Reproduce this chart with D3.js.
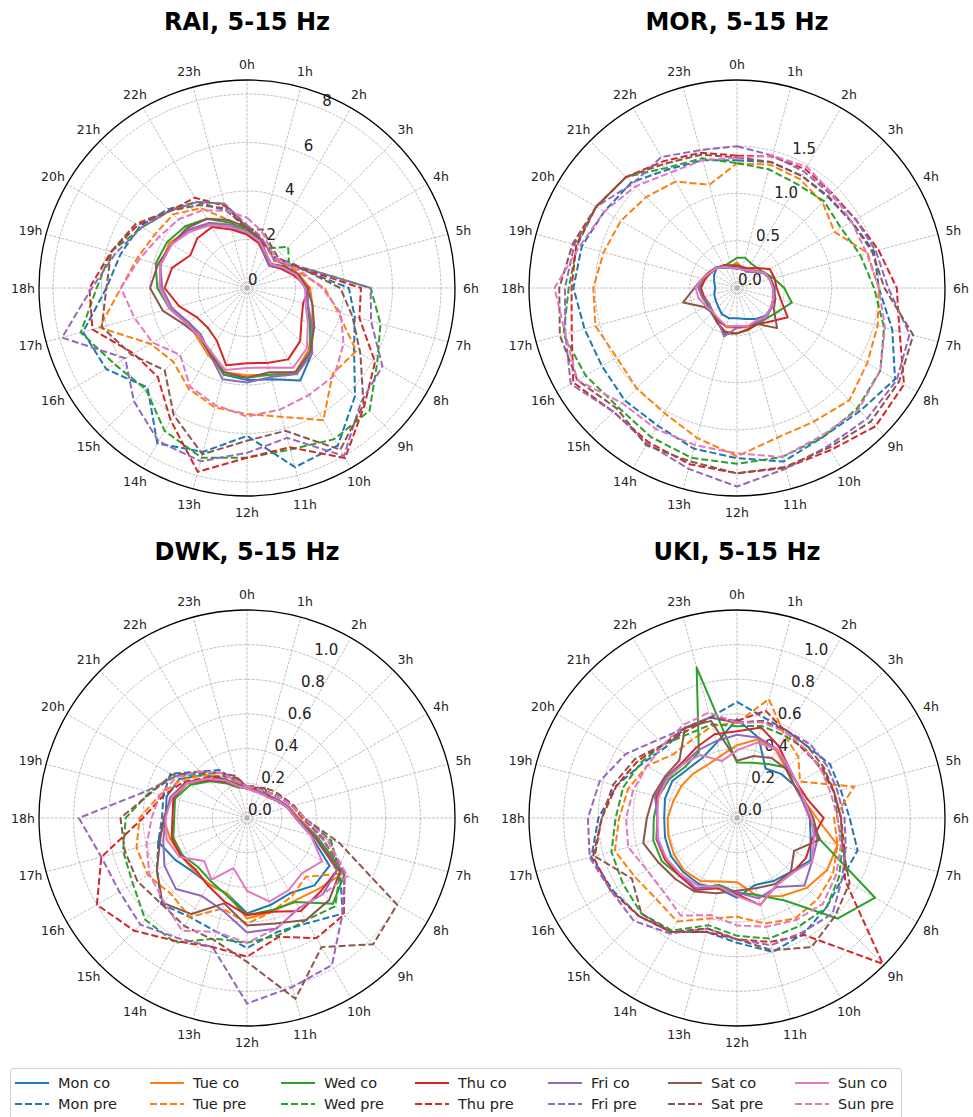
<!DOCTYPE html>
<html>
<head>
<meta charset="utf-8">
<script src="https://cdnjs.cloudflare.com/ajax/libs/d3/7.8.5/d3.min.js"></script>
<style>
  body { margin: 0; background: #fff; }
  text { font-family: "DejaVu Sans", sans-serif; }
</style>
</head>
<body>
<div id="chart"></div>
<script>
// hour labels, clockwise from the top
const hourLabels = ["0h","1h","2h","3h","4h","5h","6h","7h","8h","9h","10h","11h",
                    "12h","13h","14h","15h","16h","17h","18h","19h","20h","21h","22h","23h"];
const days = ["Mon", "Tue", "Wed", "Thu", "Fri", "Sat", "Sun"];

// radial ticks per station
const raiTicks = [0, 2, 4, 6, 8];
const morTicks = [0, 0.5, 1.0, 1.5];
const dwkTicks = [0, 0.2, 0.4, 0.6, 0.8, 1.0];
const ukiTicks = [0, 0.2, 0.4, 0.6, 0.8, 1.0];

// ---- RAI ----
const raiCo = [
  [2.25, 2.0, 1.5, 1.3, 1.7, 2.1, 2.4, 2.6, 3.0, 3.8, 4.4, 3.9, 3.8, 3.7, 3.1, 2.8, 2.9, 3.3, 3.6, 3.7, 3.6, 3.4, 3.0, 2.6],
  [2.3, 2.0, 1.6, 1.4, 1.7, 2.2, 2.6, 2.8, 3.1, 3.6, 4.0, 3.7, 3.6, 3.6, 3.2, 2.9, 2.8, 3.3, 3.6, 3.7, 3.7, 3.4, 3.1, 2.7],
  [2.4, 2.1, 1.5, 1.3, 1.7, 2.1, 2.5, 2.6, 3.0, 3.7, 4.1, 3.7, 3.7, 3.7, 3.0, 2.8, 2.8, 3.3, 3.7, 3.9, 3.8, 3.6, 3.3, 2.8],
  [2.2, 1.9, 1.5, 1.3, 1.6, 2.0, 2.55, 2.4, 2.6, 3.1, 3.4, 3.2, 3.1, 3.3, 2.5, 2.3, 2.4, 2.9, 3.4, 3.2, 2.7, 2.9, 2.9, 2.5],
  [2.3, 2.0, 1.5, 1.3, 1.7, 2.1, 2.5, 2.6, 3.1, 3.8, 4.1, 3.8, 3.9, 3.9, 3.1, 2.7, 2.8, 3.2, 3.5, 3.7, 3.6, 3.4, 3.1, 2.7],
  [2.5, 2.1, 1.6, 1.4, 1.8, 2.2, 2.5, 2.8, 3.2, 3.7, 4.0, 3.6, 3.7, 3.6, 3.1, 2.8, 3.0, 3.6, 4.0, 3.8, 3.6, 3.5, 3.3, 2.9],
  [2.3, 2.0, 1.6, 1.4, 1.7, 2.1, 2.4, 2.5, 2.9, 3.5, 3.8, 3.4, 3.3, 3.5, 3.0, 2.8, 2.9, 3.3, 3.6, 3.7, 3.6, 3.3, 3.0, 2.6]
];
const raiPre = [
  [2.5, 2.1, 1.8, 1.7, 2.1, 2.6, 4.2, 4.6, 5.1, 6.3, 7.5, 7.65, 6.1, 7.0, 7.4, 5.8, 6.7, 7.0, 5.8, 5.4, 5.1, 4.6, 4.1, 3.3],
  [2.4, 2.1, 1.8, 1.6, 1.9, 2.3, 3.2, 3.9, 5.2, 5.0, 6.3, 5.5, 5.2, 5.1, 4.8, 4.3, 4.6, 6.3, 5.2, 4.7, 4.4, 4.3, 3.8, 2.9],
  [2.5, 2.0, 1.9, 2.4, 2.0, 2.8, 5.1, 5.7, 6.2, 7.15, 7.2, 6.9, 7.0, 7.25, 6.8, 5.9, 6.3, 7.1, 6.2, 5.8, 5.0, 4.5, 4.1, 3.6],
  [2.5, 2.1, 1.8, 1.7, 2.0, 2.7, 4.7, 4.8, 6.1, 6.85, 8.1, 6.8, 7.0, 7.85, 6.3, 5.2, 5.4, 6.6, 6.5, 5.8, 5.2, 4.5, 4.3, 3.5],
  [2.6, 2.2, 1.8, 1.6, 1.9, 2.8, 5.1, 5.3, 6.45, 6.65, 8.0, 6.4, 6.8, 7.4, 7.3, 6.6, 5.8, 7.9, 6.4, 5.6, 5.0, 4.5, 4.1, 3.6],
  [2.4, 2.5, 2.0, 1.8, 2.0, 2.6, 3.85, 4.5, 5.4, 6.8, 7.7, 6.1, 6.3, 7.1, 6.05, 4.8, 5.5, 6.2, 5.8, 5.8, 5.3, 4.5, 3.95, 3.4],
  [2.9, 2.4, 1.9, 1.7, 2.0, 2.4, 3.1, 4.0, 4.6, 5.1, 5.1, 5.2, 5.3, 5.0, 4.7, 3.9, 4.5, 4.8, 5.2, 4.6, 4.2, 4.0, 3.7, 3.3]
];

// ---- MOR ----
const morCo = [
  [0.22, 0.22, 0.2, 0.24, 0.33, 0.37, 0.4, 0.4, 0.42, 0.42, 0.38, 0.34, 0.32, 0.33, 0.32, 0.28, 0.26, 0.25, 0.23, 0.25, 0.28, 0.3, 0.25, 0.22],
  [0.27, 0.22, 0.21, 0.25, 0.33, 0.36, 0.38, 0.4, 0.42, 0.44, 0.42, 0.43, 0.42, 0.43, 0.4, 0.37, 0.35, 0.38, 0.4, 0.38, 0.33, 0.3, 0.27, 0.24],
  [0.32, 0.33, 0.3, 0.3, 0.33, 0.4, 0.5, 0.6, 0.5, 0.45, 0.44, 0.46, 0.48, 0.5, 0.42, 0.38, 0.36, 0.38, 0.4, 0.37, 0.33, 0.3, 0.27, 0.28],
  [0.24, 0.23, 0.24, 0.3, 0.4, 0.41, 0.42, 0.48, 0.62, 0.5, 0.44, 0.45, 0.48, 0.48, 0.42, 0.36, 0.34, 0.36, 0.38, 0.35, 0.32, 0.3, 0.28, 0.25],
  [0.2, 0.21, 0.2, 0.24, 0.32, 0.36, 0.38, 0.4, 0.42, 0.44, 0.42, 0.42, 0.42, 0.53, 0.4, 0.36, 0.34, 0.38, 0.41, 0.38, 0.33, 0.3, 0.26, 0.22],
  [0.23, 0.22, 0.22, 0.26, 0.33, 0.37, 0.39, 0.42, 0.45, 0.6, 0.44, 0.42, 0.41, 0.42, 0.4, 0.37, 0.4, 0.59, 0.45, 0.38, 0.34, 0.31, 0.27, 0.24],
  [0.21, 0.2, 0.22, 0.25, 0.33, 0.36, 0.38, 0.4, 0.41, 0.43, 0.4, 0.42, 0.4, 0.42, 0.38, 0.36, 0.38, 0.42, 0.44, 0.38, 0.33, 0.3, 0.26, 0.22]
];
const morPre = [
  [1.35, 1.38, 1.37, 1.36, 1.4, 1.5, 1.5, 1.7, 1.93, 1.84, 1.82, 1.9, 1.8, 1.76, 1.68, 1.68, 1.65, 1.67, 1.73, 1.7, 1.62, 1.58, 1.45, 1.4],
  [1.32, 1.35, 1.33, 1.28, 1.19, 1.43, 1.5, 1.54, 1.59, 1.68, 1.63, 1.64, 1.78, 1.64, 1.53, 1.5, 1.47, 1.55, 1.52, 1.46, 1.42, 1.36, 1.3, 1.13],
  [1.32, 1.3, 1.27, 1.3, 1.27, 1.35, 1.45, 1.61, 1.75, 1.8, 1.82, 1.85, 1.86, 1.86, 1.82, 1.78, 1.85, 1.9, 1.78, 1.75, 1.72, 1.66, 1.47, 1.42],
  [1.4, 1.44, 1.45, 1.42, 1.45, 1.55, 1.69, 1.78, 2.04, 2.07, 1.98, 1.97, 1.96, 1.93, 1.88, 1.85, 2.0, 1.81, 1.75, 1.76, 1.72, 1.66, 1.55, 1.48],
  [1.5, 1.45, 1.42, 1.4, 1.45, 1.52, 1.6, 1.89, 1.95, 1.95, 1.93, 1.98, 2.1, 1.98, 1.9, 1.85, 2.03, 1.88, 1.82, 1.78, 1.72, 1.56, 1.6, 1.51],
  [1.38, 1.38, 1.37, 1.37, 1.4, 1.48, 1.56, 1.93, 1.98, 2.0, 1.95, 1.96, 1.96, 1.9, 1.92, 1.8, 1.95, 1.94, 1.88, 1.8, 1.72, 1.66, 1.52, 1.46],
  [1.38, 1.45, 1.48, 1.42, 1.4, 1.42, 1.5, 1.62, 1.75, 1.82, 1.8, 1.85, 1.75, 1.72, 1.72, 1.72, 1.95, 1.88, 1.93, 1.72, 1.62, 1.52, 1.41, 1.4]
];

// ---- DWK ----
const dwkCo = [
  [0.17, 0.18, 0.17, 0.17, 0.2, 0.24, 0.28, 0.38, 0.55, 0.55, 0.5, 0.52, 0.55, 0.45, 0.44, 0.44, 0.48, 0.53, 0.47, 0.48, 0.45, 0.35, 0.26, 0.2],
  [0.17, 0.17, 0.18, 0.18, 0.21, 0.25, 0.3, 0.42, 0.64, 0.58, 0.55, 0.56, 0.58, 0.45, 0.44, 0.43, 0.44, 0.46, 0.48, 0.45, 0.4, 0.31, 0.24, 0.19],
  [0.18, 0.17, 0.18, 0.17, 0.2, 0.24, 0.29, 0.42, 0.65, 0.7, 0.56, 0.55, 0.56, 0.46, 0.42, 0.4, 0.43, 0.44, 0.42, 0.43, 0.38, 0.3, 0.23, 0.18],
  [0.17, 0.18, 0.17, 0.17, 0.2, 0.24, 0.28, 0.4, 0.6, 0.6, 0.62, 0.56, 0.56, 0.5, 0.45, 0.42, 0.44, 0.45, 0.43, 0.44, 0.4, 0.31, 0.24, 0.19],
  [0.17, 0.16, 0.17, 0.18, 0.21, 0.25, 0.29, 0.41, 0.6, 0.62, 0.6, 0.66, 0.66, 0.55, 0.52, 0.58, 0.55, 0.5, 0.47, 0.46, 0.41, 0.32, 0.25, 0.19],
  [0.17, 0.17, 0.2, 0.18, 0.2, 0.24, 0.28, 0.4, 0.62, 0.67, 0.68, 0.63, 0.62, 0.51, 0.64, 0.69, 0.6, 0.52, 0.48, 0.45, 0.41, 0.32, 0.25, 0.2],
  [0.17, 0.16, 0.16, 0.17, 0.2, 0.24, 0.28, 0.38, 0.5, 0.45, 0.48, 0.5, 0.42, 0.3, 0.41, 0.35, 0.45, 0.48, 0.47, 0.45, 0.4, 0.32, 0.25, 0.19]
];
const dwkPre = [
  [0.17, 0.18, 0.18, 0.2, 0.23, 0.27, 0.33, 0.5, 0.62, 0.78, 0.7, 0.68, 0.75, 0.68, 0.66, 0.7, 0.6, 0.53, 0.49, 0.5, 0.51, 0.38, 0.32, 0.22],
  [0.18, 0.18, 0.18, 0.2, 0.23, 0.27, 0.32, 0.48, 0.64, 0.48, 0.52, 0.56, 0.61, 0.54, 0.66, 0.62, 0.66, 0.66, 0.62, 0.52, 0.44, 0.35, 0.28, 0.21],
  [0.18, 0.19, 0.18, 0.2, 0.23, 0.27, 0.33, 0.5, 0.62, 0.72, 0.68, 0.7, 0.72, 0.72, 0.83, 0.83, 0.76, 0.74, 0.7, 0.58, 0.48, 0.36, 0.3, 0.22],
  [0.18, 0.19, 0.18, 0.2, 0.23, 0.27, 0.32, 0.45, 0.65, 0.79, 0.8, 0.71, 0.8, 0.77, 0.82, 0.92, 1.0, 0.87, 0.6, 0.5, 0.42, 0.33, 0.28, 0.24],
  [0.18, 0.17, 0.18, 0.2, 0.23, 0.27, 0.33, 0.45, 0.65, 0.78, 0.98, 1.01, 1.07, 0.77, 0.8, 0.87, 0.85, 0.87, 0.97, 0.6, 0.48, 0.38, 0.3, 0.22],
  [0.18, 0.18, 0.2, 0.22, 0.24, 0.28, 0.33, 0.55, 1.0, 1.03, 0.86, 1.08, 0.83, 0.73, 0.72, 0.7, 0.73, 0.73, 0.73, 0.57, 0.5, 0.37, 0.3, 0.25],
  [0.18, 0.18, 0.18, 0.2, 0.23, 0.27, 0.33, 0.48, 0.67, 0.62, 0.6, 0.66, 0.72, 0.68, 0.75, 0.68, 0.65, 0.6, 0.55, 0.52, 0.47, 0.38, 0.3, 0.22]
];

// ---- UKI ----
const ukiCo = [
  [0.57, 0.48, 0.33, 0.36, 0.38, 0.4, 0.42, 0.44, 0.49, 0.44, 0.42, 0.4, 0.46, 0.42, 0.44, 0.44, 0.44, 0.43, 0.42, 0.43, 0.43, 0.4, 0.4, 0.45],
  [0.42, 0.47, 0.45, 0.4, 0.38, 0.4, 0.46, 0.6, 0.6, 0.57, 0.52, 0.47, 0.37, 0.38, 0.42, 0.43, 0.42, 0.41, 0.4, 0.38, 0.37, 0.36, 0.35, 0.37],
  [0.32, 0.33, 0.36, 0.41, 0.4, 0.4, 0.42, 0.5, 0.92, 0.82, 0.55, 0.46, 0.43, 0.4, 0.47, 0.47, 0.5, 0.5, 0.48, 0.47, 0.45, 0.42, 0.44, 0.9],
  [0.5, 0.54, 0.48, 0.42, 0.4, 0.42, 0.5, 0.45, 0.46, 0.45, 0.45, 0.52, 0.44, 0.42, 0.48, 0.47, 0.48, 0.48, 0.46, 0.48, 0.47, 0.45, 0.47, 0.5],
  [0.48, 0.48, 0.46, 0.41, 0.38, 0.39, 0.42, 0.48, 0.5, 0.55, 0.46, 0.48, 0.43, 0.41, 0.47, 0.46, 0.47, 0.48, 0.46, 0.49, 0.47, 0.44, 0.45, 0.46],
  [0.33, 0.37, 0.4, 0.4, 0.38, 0.4, 0.44, 0.49, 0.38, 0.44, 0.44, 0.42, 0.42, 0.45, 0.49, 0.5, 0.52, 0.56, 0.52, 0.5, 0.48, 0.47, 0.6, 0.58],
  [0.39, 0.45, 0.46, 0.42, 0.4, 0.4, 0.43, 0.46, 0.5, 0.45, 0.45, 0.52, 0.45, 0.41, 0.45, 0.46, 0.47, 0.47, 0.46, 0.47, 0.46, 0.44, 0.42, 0.34]
];
const ukiPre = [
  [0.67, 0.6, 0.58, 0.58, 0.62, 0.62, 0.65, 0.72, 0.7, 0.73, 0.77, 0.8, 0.72, 0.68, 0.76, 0.8, 0.83, 0.87, 0.8, 0.72, 0.63, 0.58, 0.6, 0.6],
  [0.55, 0.71, 0.55, 0.5, 0.42, 0.7, 0.56, 0.6, 0.64, 0.66, 0.67, 0.63, 0.57, 0.6, 0.69, 0.66, 0.68, 0.73, 0.68, 0.65, 0.6, 0.52, 0.52, 0.55],
  [0.53, 0.55, 0.55, 0.56, 0.56, 0.58, 0.58, 0.63, 0.68, 0.73, 0.72, 0.72, 0.68, 0.64, 0.75, 0.78, 0.76, 0.75, 0.7, 0.68, 0.64, 0.6, 0.56, 0.56],
  [0.56, 0.64, 0.57, 0.55, 0.57, 0.58, 0.6, 0.64, 0.72, 1.19, 0.78, 0.74, 0.7, 0.68, 0.76, 0.8, 0.84, 0.86, 0.78, 0.72, 0.66, 0.6, 0.58, 0.6],
  [0.55, 0.58, 0.58, 0.6, 0.6, 0.6, 0.62, 0.65, 0.7, 0.78, 0.76, 0.76, 0.7, 0.66, 0.77, 0.84, 0.84, 0.88, 0.86, 0.82, 0.74, 0.64, 0.6, 0.6],
  [0.55, 0.58, 0.58, 0.58, 0.58, 0.58, 0.6, 0.63, 0.75, 0.8, 0.86, 0.79, 0.7, 0.66, 0.76, 0.78, 0.7, 0.85, 0.78, 0.74, 0.68, 0.6, 0.6, 0.6],
  [0.55, 0.57, 0.57, 0.56, 0.56, 0.56, 0.58, 0.62, 0.66, 0.7, 0.68, 0.65, 0.62, 0.58, 0.65, 0.6, 0.6, 0.65, 0.64, 0.62, 0.6, 0.6, 0.62, 0.63]
];

const colors = ["#1f77b4", "#ff7f0e", "#2ca02c", "#d62728", "#9467bd", "#8c564b", "#e377c2"];

const width = 973, height = 1117;
const R = 208;
const DASH = "7,3";

const svg = d3.select("#chart").append("svg")
    .attr("width", width)
    .attr("height", height)
    .style("background", "#fff");

const panels = [
  {title: "RAI, 5-15 Hz", cx: 247, cy: 288, rmax: 8.58, ticks: raiTicks, fmt: d3.format("d"), co: raiCo, pre: raiPre},
  {title: "MOR, 5-15 Hz", cx: 737, cy: 288, rmax: 2.2, ticks: morTicks, fmt: d3.format(".1f"), co: morCo, pre: morPre},
  {title: "DWK, 5-15 Hz", cx: 247, cy: 818, rmax: 1.2, ticks: dwkTicks, fmt: d3.format(".1f"), co: dwkCo, pre: dwkPre},
  {title: "UKI, 5-15 Hz", cx: 737, cy: 818, rmax: 1.2, ticks: ukiTicks, fmt: d3.format(".1f"), co: ukiCo, pre: ukiPre}
];

const angle = d3.scaleLinear().domain([0, 24]).range([0, 2 * Math.PI]);

panels.forEach(function(p) {
    const radius = d3.scaleLinear().domain([0, p.rmax]).range([0, R]);
    const g = svg.append("g").attr("transform", "translate(" + p.cx + "," + p.cy + ")");

    // title
    svg.append("text")
        .attr("x", p.cx).attr("y", p.cy - 258)
        .attr("text-anchor", "middle")
        .style("font-size", "24px").style("font-weight", "bold")
        .text(p.title);

    // spokes
    g.selectAll(".spoke").data(hourLabels).enter().append("line")
        .attr("x1", 0).attr("y1", 0)
        .attr("x2", (d, i) => R * Math.sin(angle(i)))
        .attr("y2", (d, i) => -R * Math.cos(angle(i)))
        .attr("stroke", "#b0b0b0").attr("stroke-width", 0.8)
        .attr("stroke-dasharray", "3,1.3");

    // rings
    g.selectAll(".ring").data(p.ticks.filter(t => t > 0)).enter().append("circle")
        .attr("r", d => radius(d))
        .attr("fill", "none")
        .attr("stroke", "#b0b0b0").attr("stroke-width", 0.8)
        .attr("stroke-dasharray", "3,1.3");

    // hour labels
    g.selectAll(".hlab").data(hourLabels).enter().append("text")
        .attr("x", (d, i) => 224 * Math.sin(angle(i)))
        .attr("y", (d, i) => -224 * Math.cos(angle(i)))
        .attr("text-anchor", "middle")
        .attr("dominant-baseline", "central")
        .style("font-size", "12.5px")
        .attr("fill", "#222")
        .text(d => d);

    // radial tick labels at 22.5 deg
    const a = 22.5 * Math.PI / 180;
    g.selectAll(".rlab").data(p.ticks).enter().append("text")
        .attr("x", d => radius(d) * Math.sin(a) + 1)
        .attr("y", d => -radius(d) * Math.cos(a) - 3)
        .attr("text-anchor", "start")
        .style("font-size", "15px")
        .attr("fill", "#222")
        .text(d => p.fmt(d));

    // series: Mon co, Mon pre, Tue co, ...
    const line = d3.lineRadial()
        .angle((d, i) => angle(i))
        .radius(d => radius(d))
        .curve(d3.curveLinearClosed);

    days.forEach(function(day, k) {
        g.append("path")
            .datum(p.co[k])
            .attr("d", line)
            .attr("fill", "none")
            .attr("stroke", colors[k])
            .attr("stroke-width", 2)
            .attr("stroke-linejoin", "round");
        g.append("path")
            .datum(p.pre[k])
            .attr("d", line)
            .attr("fill", "none")
            .attr("stroke", colors[k])
            .attr("stroke-width", 2)
            .attr("stroke-dasharray", DASH);
    });

    // outer circle
    g.append("circle")
        .attr("r", R)
        .attr("fill", "none")
        .attr("stroke", "#000")
        .attr("stroke-width", 1.3);
});

// legend
const legend = svg.append("g");
legend.append("rect")
    .attr("x", 10.5).attr("y", 1068.5)
    .attr("width", 891).attr("height", 60)
    .attr("rx", 3)
    .attr("fill", "#fff")
    .attr("stroke", "#d0d0d0");

const colX = [15, 150, 281, 415, 548, 668, 795];
days.forEach(function(day, k) {
    [["co", 1083, null], ["pre", 1104, DASH]].forEach(function(row) {
        legend.append("line")
            .attr("x1", colX[k]).attr("x2", colX[k] + 34)
            .attr("y1", row[1]).attr("y2", row[1])
            .attr("stroke", colors[k])
            .attr("stroke-width", 2)
            .attr("stroke-dasharray", row[2]);
        legend.append("text")
            .attr("x", colX[k] + 43).attr("y", row[1])
            .attr("dominant-baseline", "central")
            .style("font-size", "14.5px")
            .attr("fill", "#222")
            .text(day + " " + row[0]);
    });
});
</script>
</body>
</html>
